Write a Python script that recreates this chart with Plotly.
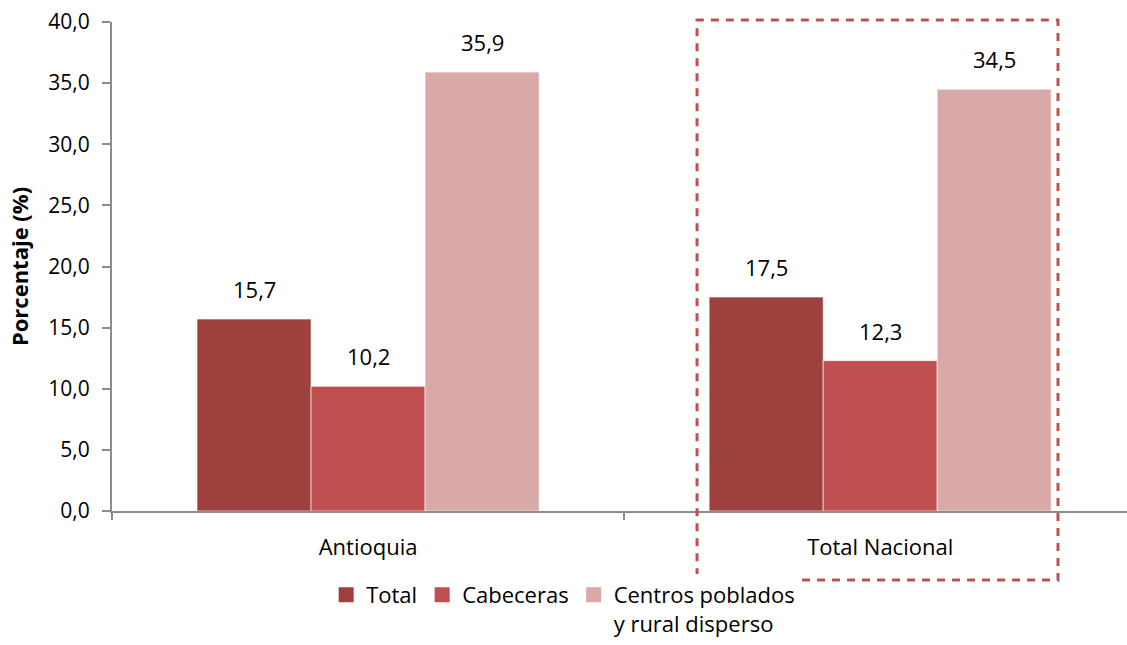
import plotly.graph_objects as go

# datos
regiones = ["Antioquia", "Total Nacional"]
total = [15.7, 17.5]
cabeceras = [10.2, 12.3]
centros_rural = [35.9, 34.5]

series = [
    ("Total", total, "#9E413E"),
    ("Cabeceras", cabeceras, "#C0504F"),
    ("Centros poblados<br>y rural disperso", centros_rural, "#D9A9A8"),
]

FONT = "Open Sans, Noto Sans, sans-serif"
BAR_PX = 114  # ancho aprox. de cada barra en pixeles

fig = go.Figure()
for i, (nombre, valores, color) in enumerate(series):
    fig.add_trace(go.Bar(
        x=regiones, y=valores, name=nombre, showlegend=False,
        marker=dict(color=color, line=dict(color="rgba(255,255,255,0.6)", width=1)),
    ))
    # entrada de leyenda con cuadro mas grande
    fig.add_trace(go.Scatter(
        x=[None], y=[None], mode="markers", name=nombre,
        marker=dict(symbol="square", size=15, color=color),
    ))
    # etiquetas de valor
    for reg, v in zip(regiones, valores):
        fig.add_annotation(
            x=reg, y=v, text=f"{v:.1f}".replace(".", ","), showarrow=False,
            yanchor="bottom", yshift=13, xshift=(i - 1) * BAR_PX,
            font=dict(size=22, color="black", family=FONT),
        )

fig.update_layout(
    width=1127, height=645,
    margin=dict(l=112, r=0, t=22, b=134, autoexpand=False),
    barmode="group", bargap=0.332, bargroupgap=0,
    plot_bgcolor="white", paper_bgcolor="white",
    separators=",.",
    font=dict(family=FONT, size=22, color="black"),
    # leyenda apoyada en el borde inferior para que no se recorte
    legend=dict(orientation="h", x=0.211, xanchor="left", y=-0.274, yanchor="bottom",
                font=dict(size=22), valign="top", tracegroupgap=0, itemwidth=30),
    showlegend=True,
)

fig.update_xaxes(
    range=[-0.5, 1.482], showline=True, linecolor="#8C8C8C", linewidth=2,
    ticks="outside", tickson="boundaries", ticklen=7, tickwidth=2, tickcolor="#8C8C8C",
    showgrid=False, tickfont=dict(size=22), automargin=False, ticklabelstandoff=16,
)
fig.update_yaxes(
    range=[0, 40], dtick=5, tickformat=".1f", showline=True, linecolor="#8C8C8C",
    linewidth=2, ticks="outside", ticklen=8, tickwidth=2, tickcolor="#8C8C8C",
    showgrid=False, zeroline=False, tickfont=dict(size=21), automargin=False,
    ticklabelstandoff=8, ticklabeloverflow="allow",
    title=dict(text="<b>Porcentaje (%)</b>", font=dict(size=22), standoff=14),
)

# recuadro punteado sobre Total Nacional
fig.add_shape(
    type="rect", xref="paper", yref="paper",
    x0=0.5764, x1=0.9320, y0=-0.141, y1=1.004,
    line=dict(color="#C0504F", width=3, dash="8px,7px"),
)

# sin margen en el body para que el grafico empiece en (0, 0)
fig.write_html(
    "out.html", config={"displayModeBar": False},
    post_script="document.body.style.margin='0';",
)
